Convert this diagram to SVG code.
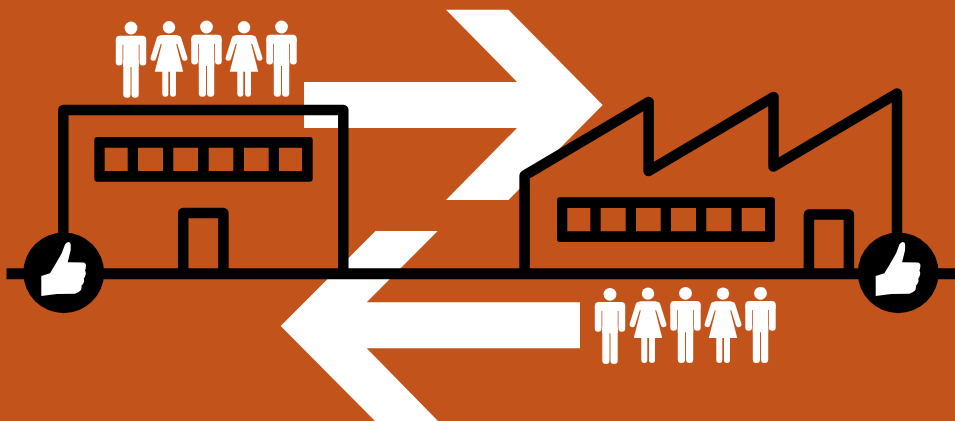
<svg xmlns="http://www.w3.org/2000/svg" xmlns:xlink="http://www.w3.org/1999/xlink" width="955" height="421" viewBox="0 0 955 421">
<style>
.w{fill:#fff}
.k{fill:none;stroke:#000;stroke-width:10.5;stroke-linejoin:round;stroke-linecap:butt}
</style>
<defs>
<g id="man" class="w">
<circle cx="0" cy="28" r="6.4"/>
<rect x="-15.2" y="35.7" width="30.4" height="9" rx="4"/>
<rect x="-15.2" y="38" width="6.7" height="27.5" rx="3.2"/>
<rect x="8.5" y="38" width="6.7" height="27.5" rx="3.2"/>
<rect x="-7.7" y="38" width="15.4" height="29"/>
<rect x="-7.7" y="58" width="7.2" height="39.7" rx="3.5"/>
<rect x="0.5" y="58" width="7.2" height="39.7" rx="3.5"/>
</g>
<g id="woman" class="w">
<circle cx="0" cy="27.3" r="6.2"/>
<path d="M-7 35H7Q10 35 11 38L12 44 7.2 44 14.2 71.7H-14.2L-7.2 44-12 44-11 38Q-10 35-7 35Z"/>
<path d="M-9.5 38.5L-15.6 58M9.5 38.5L15.6 58" fill="none" stroke="#fff" stroke-width="5.6" stroke-linecap="round"/>
<rect x="-6.7" y="68" width="6" height="28.7" rx="3"/>
<rect x="1" y="68" width="6" height="28.7" rx="3"/>
</g>
<path id="thumb" class="w" d="M41.3 296V276L50 273.3 56 263.3 61.7 253.3 65 244.5Q66.5 242 68.3 242 70.7 242 70.7 245V250L67.7 262.3 83 262.5Q86.3 263 86 266 85.8 269 85 270.5 86.3 272.5 85.5 275 85 277.5 83.8 278.5 84.6 281 83.5 283 82.5 285 81.5 285.5 81.8 288 81 290 79 292.5 75 293.7L56.7 294Z"/>
<g id="people">
<use xlink:href="#man" href="#man" x="131" y="0"/>
<use xlink:href="#woman" href="#woman" x="169" y="0"/>
<use xlink:href="#man" href="#man" x="206.5" y="-1"/>
<use xlink:href="#woman" href="#woman" x="244" y="0"/>
<use xlink:href="#man" href="#man" x="281.5" y="-1"/>
</g>
</defs>
<rect id="background" width="955" height="421" fill="#c2541b"/>
<g id="arrow-right"><path class="w" d="M304 82H517L446 9.7H508.5L602.7 105 508.5 200H446L517 128H304Z"/></g>
<g id="arrow-left"><path class="w" d="M580 302.3H366.7L437.7 231H375.5L280.7 326 375 421H438L366.7 348.3H580Z"/></g>
<g id="people-left"><use xlink:href="#people" href="#people"/></g>
<g id="people-right"><use xlink:href="#people" href="#people" x="479" y="266.3"/></g>
<g id="connectors"><path class="k" d="M6.5 273.8H955" style="stroke-width:11"/></g>
<g id="building">
<path class="k" d="M63.3 274V110H343.3V274"/>
<path fill="#000" fill-rule="evenodd" d="M97.3 137H309.7Q312.7 137 312.7 140V178.7Q312.7 181.7 309.7 181.7H97.3Q94.3 181.7 94.3 178.7V140Q94.3 137 97.3 137ZM104.7 147.7V171H127.7V147.7ZM138 147.7V171H163V147.7ZM173.3 147.7V171H198V147.7ZM208.7 147.7V171H233.3V147.7ZM244 147.7V171H268.7V147.7ZM279 147.7V171H302V147.7Z"/>
<path class="k" d="M183.2 274V212.9H223.4V274"/>
</g>
<g id="factory">
<path class="k" d="M524.6 274V175.5L648.6 102V171L773.5 97V166.5L897 93.5V274"/>
<path fill="#000" fill-rule="evenodd" d="M560 197.3H772Q775 197.3 775 200.3V239Q775 242 772 242H560Q557 242 557 239V200.3Q557 197.3 560 197.3ZM567.3 208V231.3H590.3V208ZM600.7 208V231.3H625.7V208ZM636 208V231.3H660.7V208ZM671 208V231.3H696V208ZM706.3 208V231.3H731.3V208ZM741.7 208V231.3H765V208Z"/>
<path class="k" d="M808.9 274V214.5H848.9V274"/>
</g>
<g id="thumb-left"><circle cx="63.7" cy="272.8" r="40.4" fill="#000"/><use xlink:href="#thumb" href="#thumb"/></g>
<g id="thumb-right"><circle cx="898.2" cy="272.8" r="40.4" fill="#000"/><use xlink:href="#thumb" href="#thumb" x="834.4"/></g>
</svg>
